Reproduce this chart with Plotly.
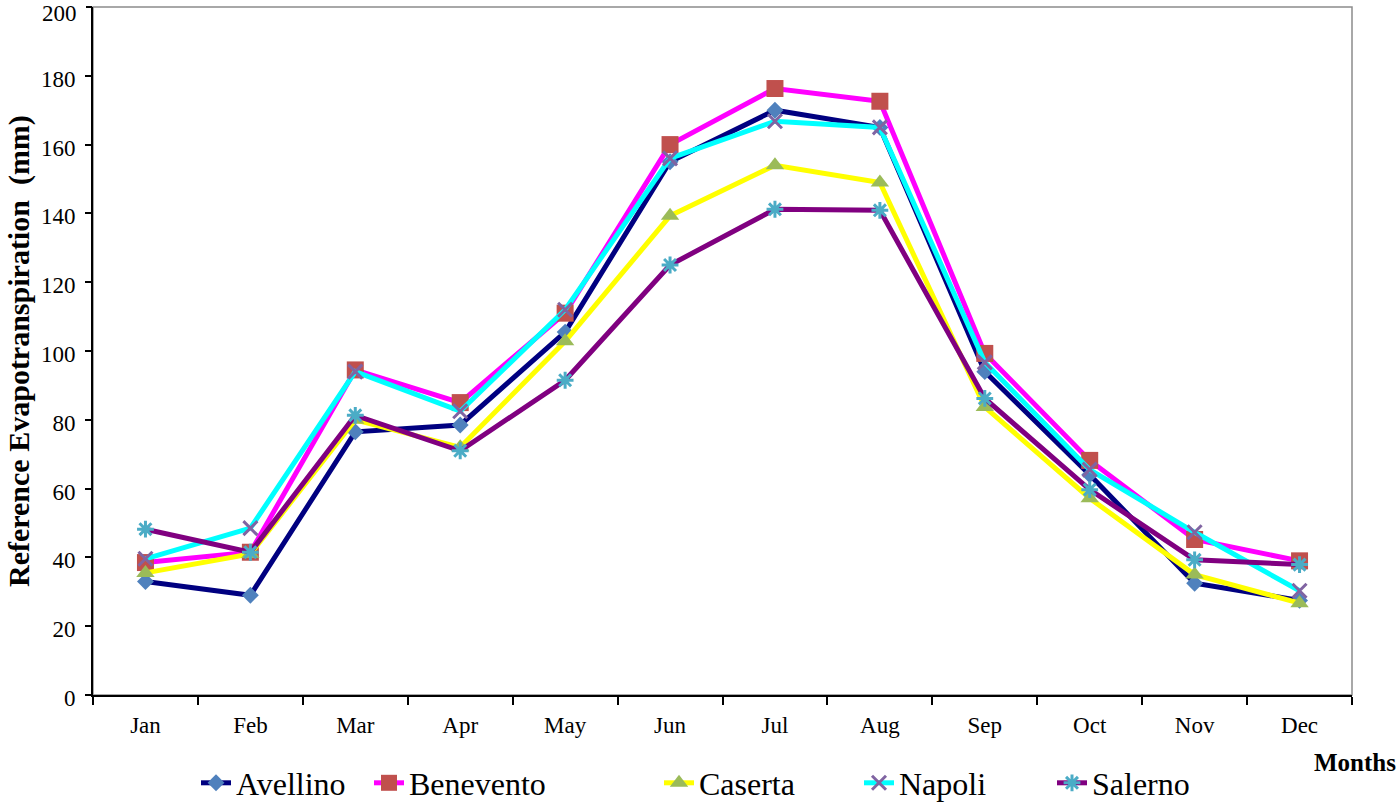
import plotly.graph_objects as go

months = ["Jan", "Feb", "Mar", "Apr", "May", "Jun", "Jul", "Aug", "Sep", "Oct", "Nov", "Dec"]
y_ticks = [0, 20, 40, 60, 80, 100, 120, 140, 160, 180, 200]

avellino = [33, 29, 76.5, 78.5, 105.5, 155, 170, 165, 94, 64, 32.5, 27.5]
benevento = [38.5, 41.5, 94.5, 85, 111, 160, 176.3, 172.6, 99.3, 68.2, 45.2, 39]
caserta = [35.5, 41, 80, 72, 102.8, 139.3, 154, 149, 83.7, 57.2, 35, 26.7]
napoli = [39.6, 48.5, 94, 82.5, 112, 156, 166.8, 165, 96.7, 65.5, 47.3, 30.3]
salerno = [48.2, 41.5, 81.3, 71, 91.5, 125, 141.2, 140.9, 86.2, 59.7, 39.3, 37.9]

series = [
    ("Avellino", avellino, "#000080", "diamond", "#4F81BD", 13),
    ("Benevento", benevento, "#FF00FF", "square", "#C0504D", 17),
    ("Caserta", caserta, "#FFFF00", "triangle-up", "#9BBB59", 16),
    ("Napoli", napoli, "#00FFFF", "x-thin", "#8064A2", 14),
    ("Salerno", salerno, "#800080", "asterisk", "#4BACC6", 14),
]

legend_px = [196, 369, 659, 859, 1052]
L, R, T, B = 93, 48, 7, 107
W, H = 1400, 802
pw, ph = W - L - R, H - T - B
font_family = "Liberation Serif"
y_range = [y_ticks[0], y_ticks[-1]]

fig = go.Figure()
layout_legends = {}
for i, (name, vals, lc, sym, mc, ms) in enumerate(series):
    lname = "legend" if i == 0 else f"legend{i+1}"
    if sym in ("x-thin", "asterisk"):
        marker = dict(symbol=sym, size=ms, color=mc, line=dict(color=mc, width=3))
    else:
        marker = dict(symbol=sym, size=ms, color=mc, line=dict(width=0))
    fig.add_trace(go.Scatter(
        x=months, y=vals, name=name, mode="lines+markers",
        line=dict(color=lc, width=5), marker=marker, legend=lname,
    ))
    layout_legends[lname] = dict(
        xref="container", yref="container",
        x=legend_px[i] / W, y=1 - 783 / H,
        xanchor="left", yanchor="middle", orientation="h",
        font=dict(family=font_family, size=32, color="black"),
        bgcolor="rgba(0,0,0,0)", borderwidth=0,
    )

# invisible trace only to activate the secondary y axis carrying the top tick label
fig.add_trace(go.Scatter(x=[months[0]], y=[y_ticks[-1]], yaxis="y2", mode="markers",
                         marker=dict(opacity=0), showlegend=False, hoverinfo="skip"))

tick_common = dict(
    ticks="outside", ticklen=6, tickwidth=2, tickcolor="black",
    showgrid=False, zeroline=False, tickfont=dict(family=font_family, size=23),
    ticklabelstandoff=5, ticklabeloverflow="allow", automargin=False,
)

fig.update_layout(
    width=W, height=H,
    margin=dict(l=L, r=R, t=T, b=B, pad=0, autoexpand=False),
    paper_bgcolor="white", plot_bgcolor="white",
    showlegend=True,
    font=dict(family=font_family, color="black"),
    xaxis=dict(
        type="category", range=[-0.5, 11.5], tickson="boundaries",
        ticks="outside", ticklen=8, tickwidth=2, tickcolor="black",
        showline=True, linecolor="black", linewidth=2, showgrid=False,
        zeroline=False, tickfont=dict(family=font_family, size=23),
        ticklabelstandoff=8, automargin=False,
    ),
    yaxis=dict(
        range=y_range, tickmode="array", tickvals=y_ticks[:-1],
        showline=True, linecolor="black", linewidth=2,
        ticklabelshift=3, **tick_common,
    ),
    yaxis2=dict(
        range=y_range, overlaying="y", side="left", tickmode="array",
        tickvals=y_ticks[-1:], showline=False, ticklabelshift=6, **tick_common,
    ),
    shapes=[dict(type="rect", xref="paper", yref="paper", x0=0, x1=1, y0=0, y1=1,
                 line=dict(color="#8C8C8C", width=1.5), layer="below")],
    annotations=[
        dict(text="<b>Months</b>", xref="paper", yref="paper",
             x=(1398 - L) / pw, y=(H - B - 762) / ph,
             xanchor="right", yanchor="middle", showarrow=False,
             font=dict(family=font_family, size=25, color="black")),
        dict(text="<b>Reference Evapotranspiration  (mm)</b>", xref="paper", yref="paper",
             x=(19 - L) / pw, y=0.5, textangle=-90,
             xanchor="center", yanchor="middle", showarrow=False,
             font=dict(family=font_family, size=30, color="black")),
    ],
    **layout_legends,
)

fig.write_html("out.html", config={"displayModeBar": False},
               post_script="document.body.style.margin='0';")
